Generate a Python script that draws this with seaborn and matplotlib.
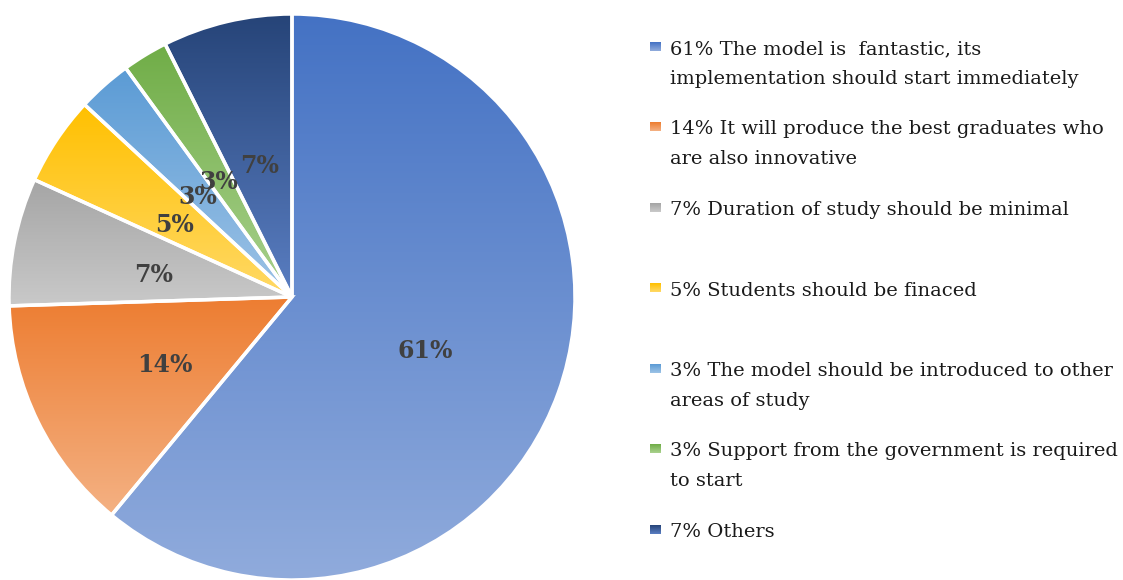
import numpy as np
import matplotlib.pyplot as plt
import seaborn as sns
from matplotlib.colors import to_rgb

sns.set_style("white")
plt.rcParams['font.family'] = ['DejaVu Serif', 'Liberation Serif']

# share of answers
shares = [61.0, 13.5, 7.3, 5.1, 3.1, 2.6, 7.4]
answers = [
    "61% The model is  fantastic, its\nimplementation should start immediately",
    "14% It will produce the best graduates who\nare also innovative",
    "7% Duration of study should be minimal",
    "5% Students should be finaced",
    "3% The model should be introduced to other\nareas of study",
    "3% Support from the government is required\nto start",
    "7% Others",
]
# gradient top -> bottom for each slice
top_colors = ['#4472C4', '#ED7D31', '#A5A5A5', '#FFC000', '#5B9BD5', '#70AD47', '#264478']
bottom_colors = ['#90ABDC', '#F4B183', '#C9C9C9', '#FFD966', '#9DC3E6', '#A9D18E', '#5A7EC2']


def gradient(c_top, c_bot, n=256):
    t = np.linspace(0, 1, n)[:, None, None]
    a = np.array(to_rgb(c_top))[None, None, :]
    b = np.array(to_rgb(c_bot))[None, None, :]
    return a + (b - a) * t


W, H = 1123, 580
fig = plt.figure(figsize=(W / 100, H / 100), dpi=100)
ax = fig.add_axes([9 / W, 0, 566 / W, 566 / H])

wedges, texts, autotexts = ax.pie(
    shares, startangle=90, counterclock=False, radius=1,
    autopct=lambda p: f'{p:.0f}%', pctdistance=0.5,
    wedgeprops=dict(edgecolor='white', linewidth=2.5, facecolor='none'),
    textprops=dict(color='#404040', fontsize=17, fontweight='bold'))

# nudge the percent labels a little down, like the original
for t in autotexts:
    x, y = t.get_position()
    t.set_position((x, y - 0.022))

for w, ct, cb in zip(wedges, top_colors, bottom_colors):
    bb = w.get_path().get_extents()
    im = ax.imshow(gradient(ct, cb), extent=(bb.x0, bb.x1, bb.y0, bb.y1),
                   origin='upper', aspect='auto', interpolation='bilinear', zorder=0)
    im.set_clip_path(w)

ax.set_xlim(-1, 1)
ax.set_ylim(-1, 1)
ax.set_aspect('equal')
ax.axis('off')

# legend drawn by hand so the entries are evenly spaced like the original
lax = fig.add_axes([0, 0, 1, 1])
lax.set_xlim(0, W)
lax.set_ylim(H, 0)
lax.axis('off')
for i, (txt, ct, cb) in enumerate(zip(answers, top_colors, bottom_colors)):
    base = 54 + i * 80.5
    lax.imshow(gradient(ct, cb, 32), extent=(650, 661, base - 3, base - 12),
               origin='upper', aspect='auto', interpolation='bilinear')
    for j, line in enumerate(txt.split('\n')):
        lax.text(670, base + j * 29.5, line, va='baseline', ha='left',
                 fontsize=14, color='#1a1a1a')
lax.set_xlim(0, W)
lax.set_ylim(H, 0)

fig.savefig('out.png', dpi=100)
